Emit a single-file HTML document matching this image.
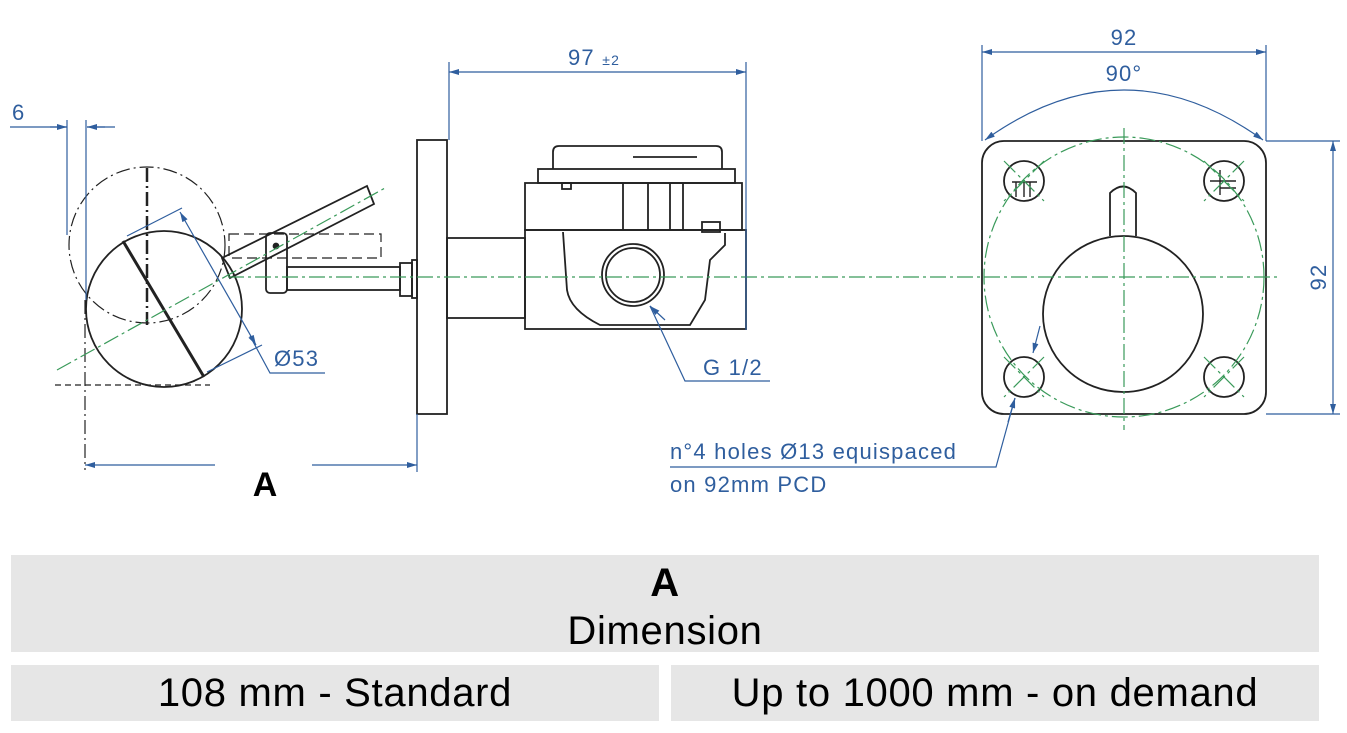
<!DOCTYPE html>
<html><head><meta charset="utf-8"><style>
body{margin:0;width:1347px;height:733px;background:#fff;overflow:hidden;font-family:"Liberation Sans",sans-serif}
svg{position:absolute;left:0;top:0}
.c{position:absolute;background:#e6e6e6;text-align:center;color:#000;font-size:40px;letter-spacing:0.7px}
</style></head><body>
<svg width="1347" height="550" viewBox="0 0 1347 550">
<defs>
<marker id="ar" viewBox="0 0 10 6" refX="10" refY="3" markerWidth="12" markerHeight="6" orient="auto-start-reverse" markerUnits="userSpaceOnUse"><path d="M0,0L10,3L0,6z" fill="#2f5e9e"/></marker>
</defs>
<g fill="none" stroke="#222" stroke-width="1.8">
<circle cx="164" cy="309" r="78"/>
<circle cx="147" cy="245" r="78" stroke-dasharray="14 4 2 4" stroke-width="1.2"/>
<line x1="123" y1="241" x2="204" y2="377" stroke-width="3"/>
<line x1="147" y1="168" x2="147" y2="325" stroke-dasharray="14 4 2 4" stroke-width="2.5"/>
<line x1="55" y1="385" x2="210" y2="385" stroke-dasharray="6 4" stroke-width="1.2"/>
<line x1="85" y1="300" x2="85" y2="470" stroke-dasharray="14 4 2 4" stroke-width="1.2"/>
<polygon points="222,258 367,186 374,204 230,278"/>
<rect x="229" y="234" width="152" height="24" stroke-dasharray="10 5" stroke-width="1.2"/>
<rect x="266" y="233" width="21" height="60" rx="4"/>
<circle cx="276" cy="246" r="2.5" fill="#222"/>
<rect x="287" y="267" width="113" height="23"/>
<rect x="400" y="263" width="12" height="33"/>
<rect x="412" y="260" width="5" height="38"/>
<rect x="417" y="140" width="30" height="274"/>
<rect x="447" y="238" width="78" height="80"/>
<rect x="525" y="230" width="221" height="99"/>
<rect x="525" y="183" width="217" height="47"/>
<rect x="538" y="169" width="197" height="14"/>
<path d="M553,169 V152 Q553,146 559,146 H716 Q722,146 722,152 V169"/>
<line x1="633" y1="157" x2="697" y2="157"/>
<line x1="623" y1="183" x2="623" y2="230"/><line x1="648" y1="183" x2="648" y2="230"/><line x1="670" y1="183" x2="670" y2="230"/><line x1="683" y1="183" x2="683" y2="230"/>
<rect x="562" y="183" width="9" height="6"/>
<rect x="702" y="222" width="18" height="10"/>
<path d="M563,232 L567,290 Q570,310 600,325 L690,325 L705,300 L710,260 L725,245 L725,233"/>
<circle cx="633" cy="275" r="31"/>
<circle cx="633" cy="275" r="27"/>
<rect x="982" y="141" width="284" height="273" rx="22"/>
<circle cx="1024" cy="181" r="20"/><circle cx="1224" cy="181" r="20"/>
<circle cx="1024" cy="377" r="20"/><circle cx="1224" cy="377" r="20"/>
<path d="M1012,182 H1037 M1016,182 V197 M1024,182 V197 M1030,182 V197 M1210,181 H1236 M1220,170 V195 M1220,188 H1236" stroke-width="1.4"/>
<ellipse cx="1123" cy="314" rx="80" ry="78"/>
<path d="M1110,236 V193 Q1123,180 1136,193 V236"/>
</g>
<g fill="none" stroke="#3a9a5a" stroke-width="1.2" stroke-dasharray="16 4 3 4">
<line x1="57" y1="370" x2="385" y2="188"/>
<line x1="228" y1="277" x2="1280" y2="277"/>
<line x1="1124" y1="128" x2="1124" y2="430"/>
<circle cx="1124" cy="277" r="140"/>
<line x1="1004" y1="161" x2="1044" y2="201"/><line x1="1044" y1="161" x2="1004" y2="201"/>
<line x1="1204" y1="161" x2="1244" y2="201"/><line x1="1244" y1="161" x2="1204" y2="201"/>
<line x1="1004" y1="357" x2="1044" y2="397"/><line x1="1044" y1="357" x2="1004" y2="397"/>
<line x1="1204" y1="357" x2="1244" y2="397"/><line x1="1244" y1="357" x2="1204" y2="397"/>
</g>
<g fill="none" stroke="#2f5e9e" stroke-width="1.2">
<line x1="10" y1="127" x2="67" y2="127"/><line x1="87" y1="127" x2="115" y2="127"/>
<line x1="50" y1="127" x2="67" y2="127" marker-end="url(#ar)"/><line x1="105" y1="127" x2="87" y2="127" marker-end="url(#ar)"/>
<line x1="67" y1="120" x2="67" y2="235"/><line x1="86" y1="120" x2="86" y2="300"/>
<line x1="180" y1="212" x2="256" y2="345" marker-start="url(#ar)" marker-end="url(#ar)"/>
<line x1="127" y1="236" x2="182" y2="208"/><line x1="207" y1="372" x2="262" y2="345"/>
<polyline points="250,336 270,373 325,373"/>
<line x1="85" y1="465" x2="215" y2="465" marker-start="url(#ar)"/><line x1="312" y1="465" x2="417" y2="465" marker-end="url(#ar)"/>
<line x1="417" y1="414" x2="417" y2="472"/>
<line x1="449" y1="62" x2="449" y2="140"/><line x1="746" y1="62" x2="746" y2="330"/>
<line x1="449" y1="72" x2="746" y2="72" marker-start="url(#ar)" marker-end="url(#ar)"/>
<polyline points="650,306 685,381 770,381" />
<line x1="665" y1="320" x2="650" y2="306" marker-end="url(#ar)"/>
<line x1="982" y1="45" x2="982" y2="141"/><line x1="1266" y1="45" x2="1266" y2="141"/>
<line x1="982" y1="52" x2="1266" y2="52" marker-start="url(#ar)" marker-end="url(#ar)"/>
<path d="M985,140 Q1124,40 1263,140" marker-start="url(#ar)" marker-end="url(#ar)"/>
<line x1="1266" y1="141" x2="1340" y2="141"/><line x1="1266" y1="414" x2="1340" y2="414"/>
<line x1="1333" y1="141" x2="1333" y2="414" marker-start="url(#ar)" marker-end="url(#ar)"/>
<polyline points="1015,398 996,467 670,467"/>
<line x1="1008" y1="422" x2="1015" y2="398" marker-end="url(#ar)"/>
<line x1="1040" y1="326" x2="1033" y2="353" marker-end="url(#ar)"/>
</g>
<g fill="#2f5e9e" font-family="Liberation Sans, sans-serif" font-size="22" letter-spacing="1.2">
<text x="12" y="120">6</text>
<text x="274" y="366">Ø53</text>
<text x="568" y="65">97 <tspan font-size="14">±2</tspan></text>
<text x="703" y="375">G 1/2</text>
<text x="1124" y="45" text-anchor="middle">92</text>
<text x="1124" y="81" text-anchor="middle">90°</text>
<text x="1328" y="277" text-anchor="middle" transform="rotate(-90 1328 277)" dy="-2">92</text>
<text x="670" y="459">n°4 holes Ø13 equispaced</text>
<text x="670" y="492">on 92mm PCD</text>
</g>
<text x="265" y="496" text-anchor="middle" font-family="Liberation Sans, sans-serif" font-weight="bold" font-size="34" fill="#000">A</text>
</svg>
<div class="c" style="left:11px;top:555px;width:1308px;height:93px;padding-top:4px;line-height:48px"><b>A</b><br>Dimension</div>
<div class="c" style="left:11px;top:665px;width:648px;height:56px;line-height:56px">108 mm - Standard</div>
<div class="c" style="left:671px;top:665px;width:648px;height:56px;line-height:56px">Up to 1000 mm - on demand</div>
</body></html>
